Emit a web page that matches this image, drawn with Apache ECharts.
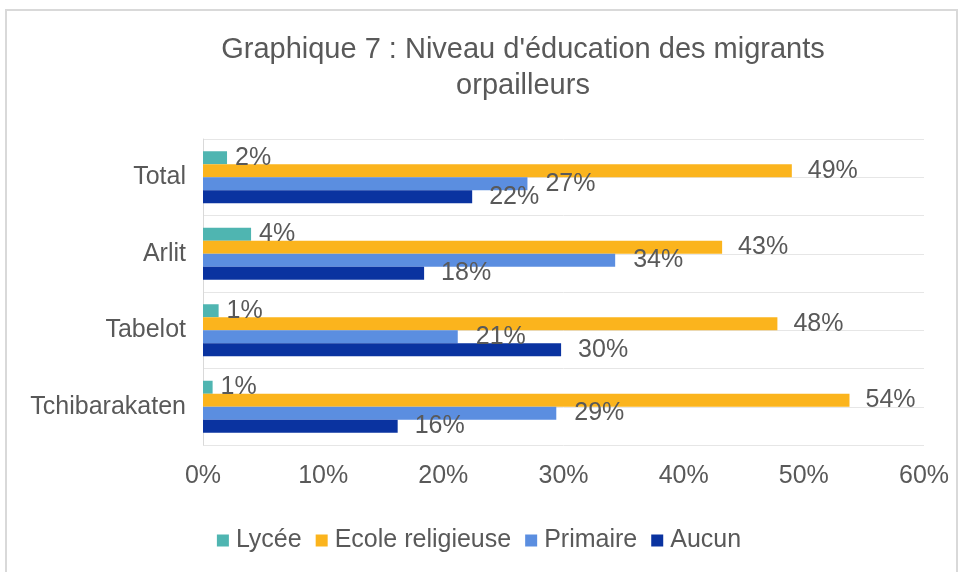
<!DOCTYPE html>
<html>
<head>
<meta charset="utf-8">
<script src="https://cdn.jsdelivr.net/npm/echarts@6/dist/echarts.min.js"></script>
<style>
  html, body { margin: 0; padding: 0; background: #fff; }
  #chart { width: 958px; height: 572px; }
</style>
</head>
<body>
<div id="chart"></div>
<script>
// data (percent)
const categories = ['Total', 'Arlit', 'Tabelot', 'Tchibarakaten'];
const seriesNames = ['Lycée', 'Ecole religieuse', 'Primaire', 'Aucun'];
const lycee = [2.0, 4.0, 1.3, 0.8];
const ecole = [49.0, 43.2, 47.8, 53.8];
const primaire = [27.0, 34.3, 21.2, 29.4];
const aucun = [22.4, 18.4, 29.8, 16.2];
const xTicks = [0, 10, 20, 30, 40, 50, 60];

const colors = ['#4fb5b1', '#fbb41d', '#5b8ee0', '#0a33a0'];
const textColor = '#595959';
const font = 'Liberation Sans, Arial, sans-serif';

const chart = echarts.init(document.getElementById('chart'));

function makeSeries(name, values, color, dist) {
    return {
        name: name,
        type: 'bar',
        data: values,
        barWidth: 13,
        barGap: '0%',
        itemStyle: { color: color },
        label: {
            show: true,
            position: 'right',
            distance: dist,
            color: textColor,
            fontSize: 25,
            fontFamily: font,
            formatter: p => Math.round(p.value) + '%'
        }
    };
}

chart.setOption({
    color: colors,
    title: {
        text: "Graphique 7 : Niveau d'éducation des migrants\norpailleurs",
        left: 518,
        top: 27,
        textAlign: 'center',
        textStyle: {
            color: textColor,
            fontSize: 29,
            fontWeight: 'normal',
            fontFamily: font,
            lineHeight: 36
        }
    },
    legend: {
        data: seriesNames,
        left: 'center',
        top: 523,
        icon: 'rect',
        itemWidth: 12,
        itemHeight: 12,
        itemGap: 14,
        textStyle: { color: textColor, fontSize: 25, fontFamily: font, padding: [0, 0, 0, 2] }
    },
    grid: { left: 203, right: 34, top: 139, bottom: 127, containLabel: false },
    xAxis: {
        type: 'value',
        min: xTicks[0],
        max: xTicks[xTicks.length - 1],
        interval: 10,
        axisLine: { show: false },
        axisTick: { show: false },
        splitLine: { show: false },
        axisLabel: {
            color: textColor,
            fontSize: 25,
            fontFamily: font,
            margin: 19,
            formatter: '{value}%'
        }
    },
    yAxis: [{
        type: 'category',
        data: categories,
        inverse: true,
        axisLine: { show: true, lineStyle: { color: '#d9d9d9' } },
        axisTick: { show: false },
        splitLine: { show: false },
        axisLabel: { color: textColor, fontSize: 25, fontFamily: font, margin: 17 }
    }, {
        // faint horizontal lines every half band
        type: 'value',
        min: 0,
        max: 8,
        interval: 1,
        position: 'right',
        axisLine: { show: false },
        axisTick: { show: false },
        axisLabel: { show: false },
        splitLine: { show: true, lineStyle: { color: '#e6e6e6' } }
    }],
    graphic: [{
        type: 'rect',
        shape: { x: 6, y: 10, width: 951, height: 580 },
        style: { fill: 'none', stroke: '#d9d9d9', lineWidth: 2 },
        silent: true
    }],
    series: [
        makeSeries(seriesNames[0], lycee, colors[0], 8),
        makeSeries(seriesNames[1], ecole, colors[1], 16),
        makeSeries(seriesNames[2], primaire, colors[2], 18),
        makeSeries(seriesNames[3], aucun, colors[3], 17)
    ]
});
</script>
</body>
</html>
